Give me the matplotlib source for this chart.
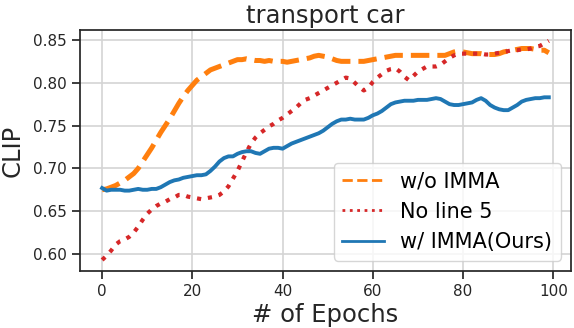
import matplotlib
matplotlib.use("Agg")
import matplotlib.pyplot as plt
from matplotlib.lines import Line2D
import numpy as np

epochs = list(range(100))

wo_imma = [0.675, 0.676, 0.678, 0.680, 0.683, 0.686, 0.690, 0.694, 0.700, 0.708,
           0.716, 0.724, 0.733, 0.742, 0.750, 0.758, 0.767, 0.776, 0.784, 0.791,
           0.797, 0.803, 0.807, 0.811, 0.815, 0.817, 0.819, 0.821, 0.823, 0.825,
           0.827, 0.827, 0.828, 0.827, 0.826, 0.826, 0.825, 0.826, 0.825, 0.825,
           0.825, 0.824, 0.825, 0.826, 0.827, 0.828, 0.829, 0.831, 0.832, 0.831,
           0.830, 0.828, 0.826, 0.825, 0.825, 0.825, 0.825, 0.825, 0.825, 0.826,
           0.827, 0.828, 0.829, 0.830, 0.831, 0.832, 0.832, 0.832, 0.832, 0.832,
           0.832, 0.832, 0.832, 0.832, 0.832, 0.832, 0.832, 0.834, 0.836, 0.837,
           0.836, 0.835, 0.834, 0.834, 0.834, 0.833, 0.833, 0.833, 0.834, 0.836,
           0.837, 0.838, 0.839, 0.840, 0.840, 0.840, 0.839, 0.838, 0.838, 0.835]

no_line5 = [0.593, 0.598, 0.604, 0.611, 0.615, 0.617, 0.620, 0.625, 0.632, 0.640,
            0.647, 0.652, 0.656, 0.659, 0.661, 0.664, 0.666, 0.669, 0.669, 0.667,
            0.666, 0.665, 0.664, 0.665, 0.666, 0.667, 0.669, 0.673, 0.679, 0.688,
            0.697, 0.708, 0.719, 0.729, 0.736, 0.741, 0.745, 0.749, 0.752, 0.756,
            0.759, 0.763, 0.767, 0.771, 0.776, 0.780, 0.782, 0.785, 0.788, 0.791,
            0.794, 0.797, 0.800, 0.803, 0.806, 0.805, 0.800, 0.795, 0.791, 0.794,
            0.801, 0.806, 0.810, 0.814, 0.816, 0.817, 0.813, 0.807, 0.803, 0.808,
            0.813, 0.816, 0.819, 0.819, 0.819, 0.821, 0.825, 0.829, 0.832, 0.834,
            0.834, 0.834, 0.834, 0.834, 0.834, 0.833, 0.833, 0.834, 0.835, 0.836,
            0.837, 0.838, 0.838, 0.839, 0.839, 0.840, 0.842, 0.843, 0.846, 0.849]

w_imma = [0.677, 0.674, 0.675, 0.675, 0.675, 0.674, 0.674, 0.675, 0.676, 0.675,
          0.675, 0.676, 0.676, 0.678, 0.681, 0.684, 0.686, 0.687, 0.689, 0.690,
          0.691, 0.692, 0.692, 0.693, 0.697, 0.702, 0.708, 0.712, 0.714, 0.714,
          0.717, 0.719, 0.720, 0.720, 0.718, 0.717, 0.720, 0.723, 0.724, 0.724,
          0.723, 0.726, 0.729, 0.731, 0.733, 0.735, 0.737, 0.739, 0.741, 0.744,
          0.748, 0.752, 0.755, 0.757, 0.757, 0.758, 0.757, 0.757, 0.757, 0.759,
          0.762, 0.764, 0.767, 0.771, 0.775, 0.777, 0.778, 0.779, 0.779, 0.779,
          0.780, 0.780, 0.780, 0.781, 0.782, 0.781, 0.778, 0.775, 0.774, 0.774,
          0.775, 0.776, 0.777, 0.780, 0.782, 0.779, 0.774, 0.771, 0.769, 0.768,
          0.768, 0.771, 0.774, 0.778, 0.780, 0.781, 0.782, 0.782, 0.783, 0.783]

labels = ["w/o IMMA", "No line 5", "w/ IMMA(Ours)"]
colors = ["#ff7f0e", "#d62728", "#1f77b4"]
styles = ["--", ":", "-"]

plt.rcParams['font.family'] = ['DejaVu Sans']
fig = plt.figure(figsize=(5.74, 3.28), dpi=100)
ax = fig.add_axes([0.139, 0.174, 0.856, 0.735])

ax.plot(epochs, wo_imma, color=colors[0], ls=styles[0], lw=3.6, zorder=3)
ax.plot(epochs, no_line5, color=colors[1], ls=styles[1], lw=3.0, zorder=3)
ax.plot(epochs, w_imma, color=colors[2], ls=styles[2], lw=2.8, zorder=3)

ax.grid(True, color="#d4d4d4", lw=1.2)
ax.set_axisbelow(True)
for s in ax.spines.values():
    s.set_color("#262626")
    s.set_linewidth(1.25)
ax.tick_params(axis="both", labelsize=11, length=6, width=1.25, color="#262626",
               labelcolor="#262626")
ax.set_xticks([0, 20, 40, 60, 80, 100])
ax.set_yticks([0.60, 0.65, 0.70, 0.75, 0.80, 0.85])
ax.set_yticklabels(["0.60", "0.65", "0.70", "0.75", "0.80", "0.85"])

ax.set_title("transport car", fontsize=17.5, color="#262626", pad=5)
ax.set_xlabel("# of Epochs", fontsize=17.5, color="#262626", labelpad=3)
ax.set_ylabel("CLIP", fontsize=17.5, color="#262626", labelpad=6)

handles = [Line2D([0], [0], color=c, ls=s, lw=2.0) for c, s in zip(colors, styles)]
ax.legend(handles, labels, loc="lower right", fontsize=15, frameon=True,
          handlelength=2.0, framealpha=0.8, edgecolor="#cccccc",
          borderaxespad=0.5, labelspacing=0.5)

fig.savefig("out.png", dpi=100)
